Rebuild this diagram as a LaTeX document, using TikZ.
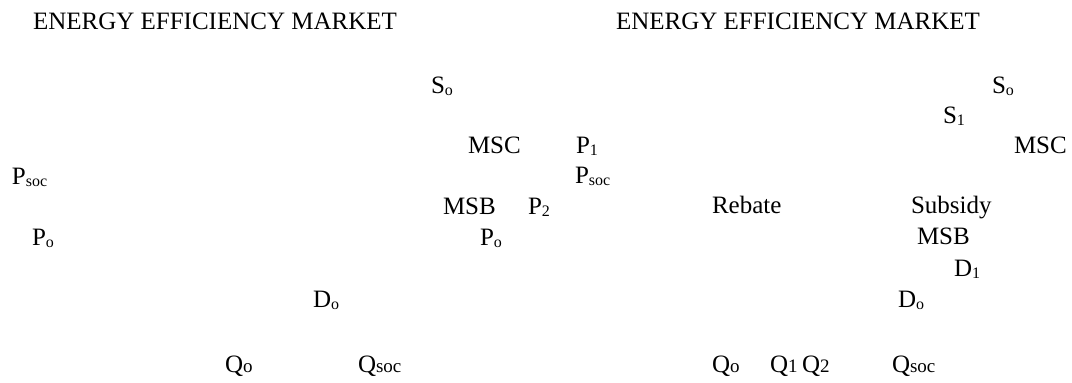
\documentclass[tikz,border=0pt]{standalone}
\usepackage{fontspec}
\setmainfont{Liberation Serif}
\newcommand\sbl[1]{\raisebox{-2pt}{\fontsize{16}{16}\selectfont #1}}
\newcommand\sbq[1]{{\fontsize{19}{19}\selectfont #1}}
\begin{document}
\begin{tikzpicture}[x=1pt,y=-1pt,
  lbl/.style={anchor=base west,inner sep=0pt,outer sep=0pt,font=\fontsize{25}{30}\selectfont}]
\useasboundingbox (0,0) rectangle (1072,383);
% left panel
\node[lbl] (t1) at (33,29) {ENERGY EFFICIENCY MARKET};
\node[lbl] (lso) at (431,93) {S\sbl{o}};
\node[lbl] (lmsc) at (468,153) {MSC};
\node[lbl] (lpsoc) at (12,184) {P\sbl{soc}};
\node[lbl] (lmsb) at (443,214) {MSB};
\node[lbl] (lp2) at (528,214) {P\sbl{2}};
\node[lbl] (lpo) at (32,245) {P\sbl{o}};
\node[lbl] (lpo2) at (480,245) {P\sbl{o}};
\node[lbl] (ldo) at (313,307) {D\sbl{o}};
\node[lbl] (lqo) at (225,372) {Q\sbq{o}};
\node[lbl] (lqsoc) at (358,372) {Q\sbq{soc}};
% right panel
\node[lbl] (t2) at (616,29) {ENERGY EFFICIENCY MARKET};
\node[lbl] (rso) at (992,93) {S\sbl{o}};
\node[lbl] (rs1) at (943,123) {S\sbl{1}};
\node[lbl] (rp1) at (576,153) {P\sbl{1}};
\node[lbl] (rmsc) at (1014,153) {MSC};
\node[lbl] (rpsoc) at (575,183) {P\sbl{soc}};
\node[lbl] (rreb) at (712,213) {Rebate};
\node[lbl] (rsub) at (911,213) {Subsidy};
\node[lbl] (rmsb) at (917,244) {MSB};
\node[lbl] (rd1) at (954,276) {D\sbl{1}};
\node[lbl] (rdo) at (898,307) {D\sbl{o}};
\node[lbl] (rqo) at (712,372) {Q\sbq{o}};
\node[lbl] (rq1) at (770,372) {Q\sbq{1}};
\node[lbl] (rq2) at (802,372) {Q\sbq{2}};
\node[lbl] (rqsoc) at (892,372) {Q\sbq{soc}};
\end{tikzpicture}
\end{document}
